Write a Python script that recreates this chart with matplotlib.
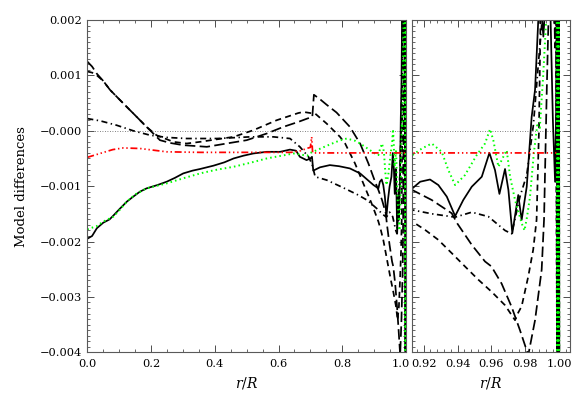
#!/usr/bin/env python3
"""
Model differences vs r/R, full profile and zoom on the outer layers
"""

import numpy as np
import matplotlib
matplotlib.use('Agg')
import matplotlib.pyplot as plt
import matplotlib.transforms as mtransforms
from matplotlib.ticker import MultipleLocator

plt.rcParams['font.family'] = ['DejaVu Serif']
plt.rcParams['mathtext.fontset'] = 'dejavuserif'

# values, dy in units of 1e-3
solid_r = [0.000, 0.015, 0.030, 0.050, 0.070, 0.082, 0.100, 0.124, 0.144, 0.165,
           0.186, 0.220, 0.249, 0.275, 0.301, 0.330, 0.354, 0.396, 0.430, 0.459,
           0.490, 0.521, 0.563, 0.605, 0.636, 0.655, 0.667, 0.688, 0.700, 0.705,
           0.709, 0.730, 0.761, 0.790, 0.824, 0.856, 0.880, 0.898, 0.9134, 0.918,
           0.9238, 0.9287, 0.9337, 0.9386, 0.9434, 0.9484, 0.9543, 0.9588, 0.9621, 0.9647,
           0.968, 0.970, 0.9723, 0.9758, 0.9778, 0.9808, 0.9837, 0.9857, 0.9876, 0.9888,
           0.9896, 0.9906, 0.9918, 0.9945, 0.9962, 0.9975, 0.9982, 0.9986, 0.9990, 0.9993,
           0.9996, 0.9998, 1.0]
solid_dy = [-1.95, -1.90, -1.76, -1.66, -1.60, -1.53, -1.42, -1.28, -1.19, -1.10,
            -1.04, -0.98, -0.92, -0.85, -0.77, -0.72, -0.69, -0.63, -0.57, -0.50,
            -0.45, -0.41, -0.38, -0.38, -0.34, -0.36, -0.47, -0.53, -0.50, -0.47,
            -0.72, -0.66, -0.62, -0.64, -0.68, -0.77, -0.89, -0.98, -1.04, -0.92,
            -0.88, -0.98, -1.19, -1.54, -1.25, -1.01, -0.83, -0.40, -0.71, -1.14,
            -0.69, -1.07, -1.85, -1.16, -1.61, -1.01, 0.25, 0.74, 2.0, 2.6,
            2.1, 1.7, 2.3, 2.5, 0.2, -0.92, 0.5, 4.0, -6.0, 6.0,
            -6.0, 6.0, -6.0]

long_r = [0.000, 0.015, 0.030, 0.050, 0.071, 0.100, 0.124, 0.150, 0.186, 0.228,
          0.260, 0.301, 0.375, 0.437, 0.500, 0.563, 0.615, 0.662, 0.690, 0.706,
          0.711, 0.730, 0.751, 0.782, 0.824, 0.856, 0.882, 0.903, 0.9134, 0.9248,
          0.9366, 0.9400, 0.9484, 0.9562, 0.9600, 0.9660, 0.9719, 0.9768, 0.9817, 0.9857,
          0.9896, 0.9910, 0.9926, 0.9940, 0.9965, 0.9975, 0.9985, 0.9990, 0.9994, 0.9997,
          1.0]
long_dy = [1.25, 1.16, 1.03, 0.90, 0.74, 0.57, 0.43, 0.28, 0.07, -0.17,
           -0.22, -0.26, -0.29, -0.23, -0.17, -0.05, 0.07, 0.16, 0.22, 0.25,
           0.65, 0.57, 0.47, 0.33, 0.07, -0.23, -0.59, -0.92, -1.07, -1.25,
           -1.49, -1.68, -2.06, -2.36, -2.45, -2.76, -3.18, -3.60, -4.05, -3.42,
           -2.51, -1.60, 0.73, 2.5, 3.0, 1.5, 4.0, -6.0, 6.0, -6.0,
           6.0]

short_r = [0.000, 0.015, 0.030, 0.050, 0.071, 0.100, 0.124, 0.150, 0.186, 0.217,
           0.270, 0.312, 0.354, 0.400, 0.459, 0.521, 0.594, 0.662, 0.678, 0.700,
           0.715, 0.751, 0.793, 0.809, 0.840, 0.866, 0.892, 0.9134, 0.9209, 0.9287,
           0.9366, 0.9444, 0.9523, 0.9602, 0.9680, 0.9739, 0.9755, 0.9778, 0.9817, 0.9846,
           0.9866, 0.9880, 0.9890, 0.9930, 0.9960, 0.9980, 0.9988, 0.9992, 0.9995, 0.9998,
           1.0]
short_dy = [1.07, 1.05, 1.00, 0.90, 0.74, 0.57, 0.43, 0.28, 0.07, -0.08,
            -0.20, -0.23, -0.20, -0.16, -0.11, 0.01, 0.19, 0.32, 0.34, 0.32,
            0.31, 0.13, -0.11, -0.23, -0.59, -0.95, -1.31, -1.64, -1.79, -1.97,
            -2.21, -2.45, -2.69, -2.91, -3.15, -3.42, -3.30, -3.17, -2.63, -2.15,
            -1.61, 0.0, 2.2, 3.0, 2.4, 3.5, -6.0, 6.0, -6.0, 6.0,
            -6.0]

dashdot_r = [0.000, 0.040, 0.092, 0.144, 0.197, 0.249, 0.312, 0.407, 0.511, 0.584,
             0.636, 0.667, 0.694, 0.705, 0.715, 0.751, 0.800, 0.850, 0.880, 0.9134,
             0.9250, 0.9386, 0.9484, 0.9582, 0.9680, 0.9719, 0.9768, 0.9808, 0.9847, 0.9876,
             0.9896, 0.9920, 0.9960, 0.9980, 0.9988, 0.9992, 0.9995, 0.9998, 1.0]
dashdot_dy = [0.22, 0.18, 0.10, 0.00, -0.08, -0.12, -0.14, -0.14, -0.11, -0.11,
              -0.14, -0.29, -0.47, -0.60, -0.83, -0.89, -1.02, -1.16, -1.26, -1.43,
              -1.50, -1.56, -1.47, -1.55, -1.80, -1.86, -1.19, -0.80, 0.10, 1.19,
              1.91, 2.6, 3.0, 2.5, -6.0, 6.0, -6.0, 6.0, -6.0]

green_r = [0.000, 0.030, 0.050, 0.082, 0.100, 0.124, 0.150, 0.186, 0.249, 0.300,
           0.354, 0.400, 0.459, 0.510, 0.563, 0.610, 0.647, 0.670, 0.690, 0.700,
           0.720, 0.760, 0.790, 0.814, 0.840, 0.856, 0.887, 0.905, 0.9134, 0.9190,
           0.9248, 0.9307, 0.9346, 0.9386, 0.9444, 0.9513, 0.9562, 0.9592, 0.9611, 0.9641,
           0.9670, 0.9690, 0.9710, 0.9739, 0.9778, 0.9795, 0.9810, 0.9827, 0.9850, 0.9870,
           0.9885, 0.9905, 0.9926, 0.9945, 0.9970, 0.9985, 0.9988, 0.9991, 0.9994, 0.9997,
           1.0]
green_dy = [-1.78, -1.72, -1.64, -1.55, -1.44, -1.28, -1.15, -1.04, -0.95, -0.86,
            -0.77, -0.71, -0.65, -0.58, -0.50, -0.45, -0.41, -0.43, -0.45, -0.40,
            -0.35, -0.25, -0.18, -0.14, -0.18, -0.23, -0.35, -0.42, -0.44, -0.32,
            -0.23, -0.38, -0.71, -0.98, -0.80, -0.44, -0.23, 0.03, -0.17, -0.65,
            -0.47, -0.35, -0.83, -1.25, -1.67, -1.80, -1.55, -1.20, -0.40, 0.10,
            0.05, 1.0, 2.2, 2.8, 3.0, 2.0, -6.0, 6.0, -6.0, 6.0,
            -6.0]

red_r = [0.000, 0.040, 0.080, 0.113, 0.165, 0.249, 0.354, 0.500, 0.640, 0.670,
         0.688, 0.700, 0.704, 0.707, 0.800, 0.900, 1.000]
red_dy = [-0.48, -0.41, -0.34, -0.31, -0.32, -0.38, -0.39, -0.39, -0.39, -0.36,
          -0.32, -0.30, -0.11, -0.40, -0.40, -0.40, -0.40]

yticks = [-0.004, -0.003, -0.002, -0.001, 0.0, 0.001, 0.002]
ytick_labels = ['\u22120.004', '\u22120.003', '\u22120.002', '\u22120.001',
                '\u22120.000', '0.001', '0.002']
left_xticks = [0.0, 0.2, 0.4, 0.6, 0.8, 1.0]
right_xticks = [0.92, 0.94, 0.96, 0.98, 1.00]

series = [
    (solid_r, solid_dy, dict(color='black', lw=1.25, ls='-')),
    (long_r, long_dy, dict(color='black', lw=1.25, ls=(0, (6, 2.5)))),
    (short_r, short_dy, dict(color='black', lw=1.25, ls=(0, (3.5, 2.5)))),
    (dashdot_r, dashdot_dy, dict(color='black', lw=1.25, ls=(0, (3.5, 2, 0.8, 2)))),
    (green_r, green_dy, dict(color='#00ff00', lw=1.4, ls=(0, (0.8, 1.6)))),
    (red_r, red_dy, dict(color='#ff0000', lw=1.25,
                         ls=(0, (4, 1.6, 0.8, 1.6, 0.8, 1.6, 0.8, 1.6)))),
]

W, H = 581, 415
fig = plt.figure(figsize=(W / 100, H / 100), dpi=100)
bottom = 1 - 352.3 / H
height = (352.3 - 20) / H
ax1 = fig.add_axes([87.3 / W, bottom, (406 - 87.3) / W, height])
ax2 = fig.add_axes([411.7 / W, bottom, (570 - 411.7) / W, height])

for ax in (ax1, ax2):
    ax.axhline(0, color='0.35', lw=0.6, ls=(0, (1, 2)))
    for r, dy, style in series:
        ax.plot(r, np.array(dy) * 1e-3, **style)
    ax.set_ylim(-0.004, 0.002)
    ax.set_yticks(yticks)
    ax.yaxis.set_minor_locator(MultipleLocator(0.0001))
    ax.tick_params(which='both', direction='in', top=True, right=True,
                   colors='0.3', labelcolor='black', labelsize=8.2)
    ax.tick_params(which='major', length=5, width=0.7)
    ax.tick_params(which='minor', length=2.5, width=0.6)
    ax.tick_params(axis='x', pad=5)
    for sp in ax.spines.values():
        sp.set_color('0.35')
        sp.set_linewidth(0.8)
    ax.set_xlabel(r'$r/R$', fontsize=10)
    ax.xaxis.set_label_coords(0.5, -0.068)

ax1.set_xlim(0.0, 1.0)
ax1.set_xticks(left_xticks)
ax1.set_xticklabels(['%.1f' % t for t in left_xticks])
ax1.xaxis.set_minor_locator(MultipleLocator(0.05))
ax1.set_yticklabels(ytick_labels)
ax1.set_ylabel('Model differences', fontsize=9.5)
ax1.yaxis.set_label_coords(-0.185, 0.5)

# the "1.0" label sits just left of the "0.92" label, as in the original
last = ax1.get_xticklabels()[-1]
last.set_transform(last.get_transform() +
                   mtransforms.ScaledTranslation(-5 / 100, 0, fig.dpi_scale_trans))

ax2.set_xlim(0.913, 1.0063)
ax2.set_xticks(right_xticks)
ax2.set_xticklabels(['%.2f' % t for t in right_xticks])
ax2.xaxis.set_minor_locator(MultipleLocator(0.004))
ax2.set_yticklabels([])

fig.savefig('out.png', dpi=100)
